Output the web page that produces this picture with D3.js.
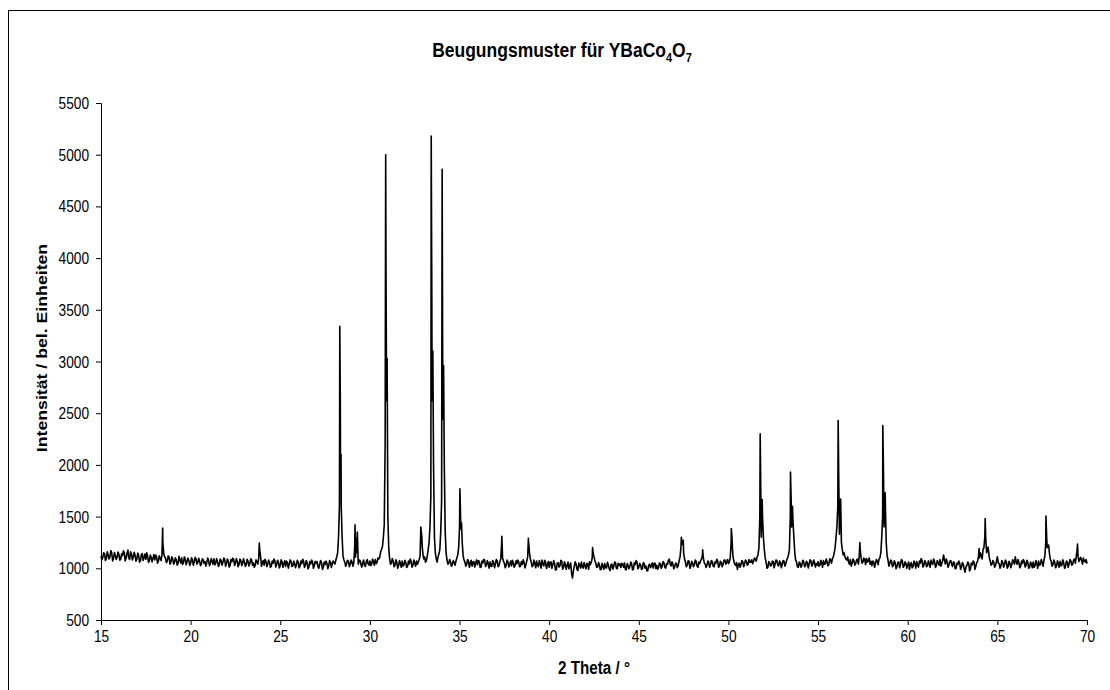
<!DOCTYPE html>
<html>
<head>
<meta charset="utf-8">
<script src="https://cdn.jsdelivr.net/npm/d3@7"></script>
<style>
body { margin: 0; background: #fff; }
svg { display: block; font-family: "Liberation Sans", Arial, sans-serif; }
</style>
</head>
<body>
<svg class="xrd-chart"></svg>
<script>
var thetaStart = 15, thetaStep = 0.1;
var scanCounts = [
	1118,1104,1139,1097,1130,1112,1148,1093,1125,1108,
	1134,1088,1121,1152,1099,1176,1085,1138,1109,1126,
	1091,1123,1072,1142,1101,1087,1118,1070,1105,1096,
	1082,1111,1066,1098,1130,1140,1095,1072,1108,1061,
	1094,1058,1083,1047,1079,1101,1052,1088,1063,1076,
	1049,1082,1061,1093,1055,1070,1041,1085,1066,1052,
	1078,1044,1069,1091,1050,1062,1035,1074,1058,1083,
	1046,1071,1029,1063,1088,1052,1067,1038,1075,1049,
	1061,1033,1070,1045,1082,1054,1027,1064,1100,1115,
	1052,1031,1068,1040,1057,1022,1049,1073,1036,1058,
	1027,1061,1044,1018,1055,1039,1066,1024,1048,1033,
	1059,1021,1045,1070,1030,1052,1013,1041,1062,1026,
	1048,1017,1039,1058,1008,1036,1050,1022,1061,1043,
	1055,1080,1150,1600,1600,1120,1060,1045,1070,1038,
	1062,1050,1110,1350,1080,1036,1058,1027,1065,1044,
	1071,1040,1063,1085,1058,1090,1160,1210,1420,3800,
	1500,1090,1052,1068,1030,1061,1024,1047,1070,1033,
	1055,1019,1042,1066,1028,1050,1071,1060,1120,1300,
	1090,1060,1120,1250,1700,2900,1300,1090,1110,1180,
	1650,2700,1350,1080,1050,1062,1035,1058,1070,1130,
	1400,1420,1120,1060,1038,1072,1045,1021,1066,1050,
	1034,1068,1012,1051,1079,1029,1047,1063,1018,1055,
	1040,1071,1026,1090,1100,1048,1030,1061,1035,1024,
	1052,1029,1044,1063,1020,1038,1057,1034,1110,1150,
	1060,1028,1049,1071,1015,1043,1080,1022,1056,1037,
	1010,1062,1031,1048,987,1055,1024,1070,1006,1039,
	1028,995,1052,906,1019,1041,978,1033,1060,1002,
	1025,1048,990,1036,1100,1110,1050,1012,1037,990,
	1022,1045,1003,1031,978,1040,1015,1056,996,1027,
	1008,1039,1052,985,1030,1017,1044,992,1036,1060,
	1012,1034,995,1048,1021,978,1040,1026,1003,1051,
	1030,1007,1044,1018,1055,1001,1037,1088,1022,1040,
	1014,1046,1029,1110,1260,1150,1060,1031,1070,1019,
	1052,1033,1066,1010,1045,1090,1100,1040,1027,1058,
	1036,1061,1015,1048,1070,1023,1055,1039,1081,1060,
	1044,1100,1290,1070,1028,990,1050,1036,1062,1043,
	1071,1040,1058,1083,1066,1090,1110,1200,1800,1500,
	1180,1060,1010,1052,1030,1064,1041,1075,1022,1058,
	1037,1069,1045,1100,1180,1650,1450,1150,1060,1010,
	1048,1033,1062,1025,1055,1040,1071,1036,1058,1047,
	1063,1029,1055,1074,1042,1066,1038,1080,1095,1150,
	1300,1600,1450,1250,1130,1110,1080,1060,1085,1050,
	1072,1045,1090,1130,1100,1060,1085,1095,1070,1040,
	1025,1062,1044,1070,1090,1150,1500,1550,1250,1080,
	1045,1068,1030,1052,1017,1060,1039,1071,1024,1048,
	1035,990,1056,1020,1043,1066,1012,1049,1074,1031,
	1058,1024,1046,1079,1038,1061,1030,1052,1084,1047,
	1129,1042,1060,1033,1075,1018,1054,1002,1037,1048,
	1012,1040,962,1027,1049,995,1033,1058,1021,1070,
	1100,1120,1180,1300,1150,1180,1070,1040,1060,1028,
	1112,1045,1023,1058,1036,1065,1019,1050,1031,1072,
	1112,1040,1057,1021,1046,1068,1030,1055,1012,1043,
	1061,1025,1047,1070,1036,1058,1080,1250,1210,1150,
	1070,1035,1058,1022,1046,1068,1030,1052,1015,1060,
	1042,1071,1038,1090,1110,1120,1090,1075,1100,1060,
	1045
];

// in-between readings at 15.05, 15.15 ... 69.95
var halfStart = 15.05;
var scanCountsHalf = [
	1082,1150,1075,1160,1090,1171,1070,1152,1086,1158,
	1079,1140,1168,1072,1145,1098,1160,1081,1155,1069,
	1148,1060,1131,1076,1138,1150,1058,1129,1062,1133,
	1128,1050,1121,1075,1250,1112,1055,1120,1040,1110,
	1040,1102,1030,1115,1052,1038,1110,1035,1098,1028,
	1101,1030,1106,1040,1097,1025,1092,1048,1021,1099,
	1026,1095,1040,1032,1093,1018,1090,1030,1100,1020,
	1090,1012,1084,1098,1027,1094,1015,1089,1026,1092,
	1018,1087,1022,1092,1030,1010,1081,1041,1180,1020,
	1075,1088,1016,1079,1009,1070,1090,1012,1078,1004,
	1083,1010,1072,1069,1002,1081,1017,1070,1006,1077,
	1003,1071,1088,1008,1074,995,1066,1079,1000,1068,
	1066,1000,1075,990,1060,1069,996,1074,1008,1071,
	1040,1110,1300,2600,1300,1080,1020,1078,1015,1080,
	1020,1200,1150,1040,1075,1012,1080,1018,1085,1030,
	1025,1090,1030,1045,1100,1110,1185,1300,2200,2850,
	1200,1040,1095,1015,1082,1000,1075,1010,1022,1078,
	1008,1070,1090,1010,1080,1020,1040,1085,1380,1150,
	1110,1075,1180,1400,3800,2000,1150,1060,1140,1350,
	3500,2000,1150,1040,1085,1020,1075,1030,1100,1200,
	1550,1250,1080,1020,1085,1010,1078,1062,1012,1081,
	1075,1009,1070,1088,1017,1074,1002,1020,1076,1006,
	1085,1015,1065,1250,1070,1005,1080,1012,1070,1078,
	1010,1072,1080,1015,1066,1083,1004,1070,1250,1090,
	1015,1079,1005,1030,1075,1002,1040,1077,998,1065,
	1058,1000,1075,985,1050,1012,1078,992,1062,990,
	1060,1030,950,975,1062,990,1050,1002,1015,1055,
	995,1040,1062,1060,1150,1075,1010,1055,985,1048,
	990,1006,1058,995,1035,992,1060,1000,1049,1044,
	1048,1010,990,1045,995,1060,985,1054,1075,995,
	1045,990,1054,1002,975,1030,1006,1052,1045,998,
	992,1050,1000,1066,1012,1047,1075,1040,1062,995,
	1050,1005,1075,1200,1250,1090,1015,1072,1000,1068,
	1015,1080,1022,1060,1075,1130,1055,1008,1070,1010,
	1075,1020,1062,1088,1010,1068,1015,1078,1040,1085,
	1065,1250,1120,1040,1055,1035,1010,1075,1015,1080,
	1030,1085,1060,1045,1100,1070,1130,1500,1480,1300,
	1100,1000,1065,1022,1070,1005,1080,1030,1070,1005,
	1075,1020,1080,1130,1500,1500,1300,1080,1015,1060,
	1010,1078,1015,1068,1003,1082,1020,1080,1012,1030,
	1020,1078,1010,1040,1090,1025,1092,1050,1110,1200,
	1400,1900,1600,1180,1150,1090,1110,1040,1020,1090,
	1030,1082,1040,1180,1050,1100,1035,1060,1100,1068,
	1070,1010,1085,1035,1100,1300,1900,1650,1120,1020,
	1080,1015,1072,995,1058,1005,1085,1010,1062,1000,
	1060,1040,1005,1070,1002,1028,1070,1095,1012,1075,
	1015,1072,1010,1045,1090,1008,1076,1030,1020,1075,
	1080,1090,1010,1068,1040,1062,995,1050,1070,990,
	1055,990,1015,1060,975,1050,1070,990,1055,1120,
	1150,1090,1200,1300,1170,1100,1030,1075,1010,1070,
	1050,1000,1075,1010,1080,1002,1068,1005,1082,1040,
	1060,1085,1005,1070,1085,1012,1078,1000,1060,1005,
	1010,1075,1000,1030,1085,1020,1120,1300,1215,1090,
	1020,1080,1005,1072,1010,1025,1082,1000,1070,1010,
	1085,1030,1078,1050,1180,1065,1105,1040,1070,1085
];

// reflex tops and Ka2 shoulders
var peakTheta = [
	18.44, 23.83,
	28.32, 28.36, 28.39,
	29.17, 29.22,
	30.88, 30.93, 30.96,
	32.84, 32.91,
	33.42, 33.47, 33.51,
	34.03, 34.07, 34.11,
	35.02, 35.07, 35.11,
	37.36, 38.84, 38.88, 42.42,
	47.37, 47.43, 47.48, 48.56,
	50.16, 50.22,
	51.77, 51.83, 51.88,
	53.46, 53.52, 53.57,
	56.12, 56.19, 56.26,
	57.33,
	58.61, 58.68, 58.74,
	63.98, 64.32, 64.48,
	67.71, 67.78, 67.86,
	69.47
];
var peakCounts = [
	1390, 1245,
	3340, 2000, 2100,
	1420, 1290,
	5000, 2620, 3030,
	1400, 1230,
	5180, 2620, 3100,
	4860, 2440, 2960,
	1770, 1380, 1440,
	1310, 1290, 1200, 1200,
	1300, 1230, 1270, 1180,
	1385, 1200,
	2300, 1300, 1665,
	1930, 1400, 1600,
	2430, 1330, 1670,
	1250,
	2380, 1400, 1730,
	1190, 1480, 1205,
	1505, 1200, 1225,
	1235
];

var xTicks = [15, 20, 25, 30, 35, 40, 45, 50, 55, 60, 65, 70];
var yTicks = [500, 1000, 1500, 2000, 2500, 3000, 3500, 4000, 4500, 5000, 5500];

// the original picture is stretched vertically, text too
var stretch = 1.165;

function buildData() {
	var data = [];
	for (var i = 0; i < scanCounts.length; i++) {
		data.push({ theta: thetaStart + i * thetaStep, value: scanCounts[i] });
	}
	for (var k = 0; k < scanCountsHalf.length; k++) {
		data.push({ theta: halfStart + k * thetaStep, value: scanCountsHalf[k] });
	}
	for (var j = 0; j < peakTheta.length; j++) {
		data.push({ theta: peakTheta[j], value: peakCounts[j] });
	}
	data.sort(function(a, b) { return a.theta - b.theta; });
	return data;
}

function drawChart(data) {
	var svgWidth = 1110, svgHeight = 690;
	var margin = { top: 103, right: 23, bottom: 70, left: 101 };
	var width = svgWidth - margin.left - margin.right;
	var height = svgHeight - margin.top - margin.bottom;

	var svg = d3.select(".xrd-chart")
	.attr("width", svgWidth)
	.attr("height", svgHeight);

	svg.append("rect")
	.attr("x", 8.5)
	.attr("y", 10.5)
	.attr("width", 1120)
	.attr("height", 700)
	.attr("fill", "none")
	.attr("stroke", "#000")
	.attr("stroke-width", 1);

	var title = svg.append("text")
	.attr("transform", "translate(562,57) scale(1," + stretch + ")")
	.attr("text-anchor", "middle")
	.attr("font-size", 17.5)
	.attr("font-weight", "bold");
	title.append("tspan").text("Beugungsmuster für YBaCo");
	title.append("tspan").attr("dy", 4).attr("font-size", 11).text("4");
	title.append("tspan").attr("dy", -4).text("O");
	title.append("tspan").attr("dy", 4).attr("font-size", 11).text("7");

	var g = svg.append("g")
	.attr("transform", "translate(" + margin.left + "," + margin.top + ")");

	var x = d3.scaleLinear()
	.domain([15, 70])
	.range([0, width]);

	var y = d3.scaleLinear()
	.domain([500, 5500])
	.range([height, 0]);

	var xAxis = g.append("g")
	.attr("transform", "translate(0," + height + ")")
	.call(d3.axisBottom(x).tickValues(xTicks).tickSize(5).tickFormat(d3.format("d")));

	var yAxis = g.append("g")
	.call(d3.axisLeft(y).tickValues(yTicks).tickSize(5).tickFormat(d3.format("d")));

	[xAxis, yAxis].forEach(function(ax) {
		ax.selectAll("text")
		.attr("font-size", 13.7)
		.attr("font-family", "Liberation Sans, Arial, sans-serif")
		.attr("fill", "#000")
		.attr("x", null)
		.attr("y", null)
		.attr("dy", null);
		ax.selectAll("line").attr("stroke", "#000");
		ax.select(".domain").attr("stroke", "#000");
	});
	xAxis.selectAll("text").attr("transform", "translate(0,22) scale(1," + stretch + ")");
	yAxis.selectAll("text").attr("transform", "translate(-12,5.5) scale(1," + stretch + ")");

	svg.append("text")
	.attr("transform", "translate(" + (margin.left + width / 2) + ",674) scale(1," + stretch + ")")
	.attr("text-anchor", "middle")
	.attr("font-size", 15.2)
	.attr("font-weight", "bold")
	.text("2 Theta / °");

	svg.append("text")
	.attr("transform", "translate(47,348) rotate(-90) scale(1," + (1 / stretch) + ")")
	.attr("text-anchor", "middle")
	.attr("font-size", 17.7)
	.attr("font-weight", "bold")
	.text("Intensität / bel. Einheiten");

	var line = d3.line()
	.x(function(d) { return x(d.theta)})
	.y(function(d) { return y(d.value)});

	g.append("path")
	.datum(data)
	.attr("fill", "none")
	.attr("stroke", "#000")
	.attr("stroke-linejoin", "round")
	.attr("stroke-width", 1.6)
	.attr("d", line);
}

drawChart(buildData());
</script>
</body>
</html>
